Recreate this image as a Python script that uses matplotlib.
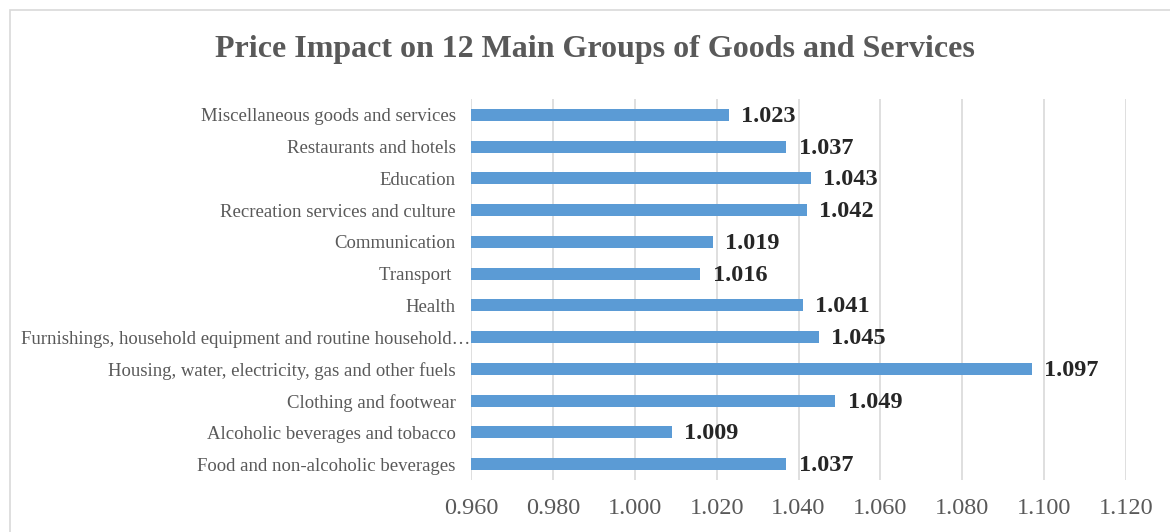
import matplotlib.pyplot as plt
from matplotlib.patches import Rectangle
from matplotlib.transforms import ScaledTranslation

plt.rcParams['font.family'] = ['Liberation Serif', 'DejaVu Serif']

groups = ['Food and non-alcoholic beverages',
          'Alcoholic beverages and tobacco',
          'Clothing and footwear',
          'Housing, water, electricity, gas and other fuels',
          'Furnishings, household equipment and routine household\u2026',
          'Health',
          'Transport ',
          'Communication',
          'Recreation services and culture',
          'Education',
          'Restaurants and hotels',
          'Miscellaneous goods and services']
impact = [1.037, 1.009, 1.049, 1.097, 1.045, 1.041,
          1.016, 1.019, 1.042, 1.043, 1.037, 1.023]
xticks = [0.96, 0.98, 1.00, 1.02, 1.04, 1.06, 1.08, 1.10, 1.12]

fig = plt.figure(figsize=(11.7, 5.32), dpi=100)
# chart frame
fig.patches.append(Rectangle((10/1170, -0.01), 1.1, 1 - 10/532 + 0.01,
                             transform=fig.transFigure, fill=False,
                             edgecolor='#D9D9D9', linewidth=1.2))

ax = fig.add_axes([471/1170, 1 - 480/532, 655/1170, 381/532])
ypos = range(len(groups))
ax.barh(ypos, [v - 0.96 for v in impact], left=0.96, height=0.38,
        color='#5B9BD5', zorder=3)
for y, v in zip(ypos, impact):
    ax.annotate(f'{v:.3f}', (v, y), xytext=(9, -1), textcoords='offset points',
                va='center', ha='left', fontsize=17.5, fontweight='bold',
                color='#262626')

ax.set_xlim(0.96, 1.12)
ax.set_ylim(-0.5, len(groups) - 0.5)
ax.set_xticks(xticks)
ax.set_xticklabels([f'{t:.3f}' for t in xticks], fontsize=17.5, color='#595959')
ax.set_yticks(list(ypos))
ax.set_yticklabels(groups, fontsize=13.5, color='#595959')
ax.tick_params(length=0)
ax.tick_params(axis='y', pad=11)
ax.tick_params(axis='x', pad=13)
ax.grid(axis='x', color='#D9D9D9', linewidth=1.2, zorder=0)
for s in ax.spines.values():
    s.set_visible(False)

# the truncated label runs up to the bar in the original
lbl = ax.get_yticklabels()[4]
lbl.set_transform(lbl.get_transform() + ScaledTranslation(0.15, 0, fig.dpi_scale_trans))

fig.text(595/1170, 1 - 49/532, 'Price Impact on 12 Main Groups of Goods and Services',
         ha='center', va='center', fontsize=23, fontweight='bold', color='#595959')

fig.savefig('out.png', dpi=100)
